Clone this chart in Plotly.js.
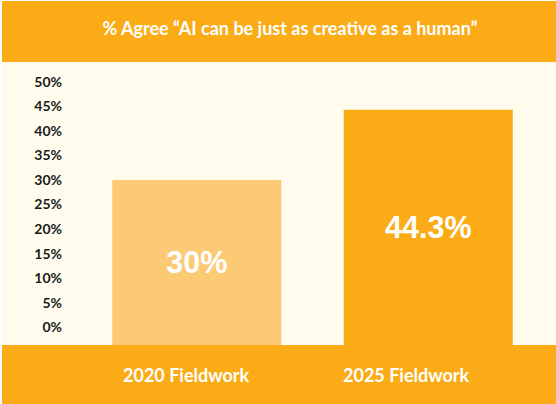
<!DOCTYPE html>
<html>
<head>
<meta charset="utf-8">
<script src="https://cdn.plot.ly/plotly-3.0.1.min.js"></script>
<style>html,body{margin:0;padding:0;background:#fff;}#chart{width:556px;height:404px;}</style>
</head>
<body>
<div id="chart"></div>
<script>
const categories = ['2020 Fieldwork', '2025 Fieldwork'];
const agreePct = [30, 44.3];
const barLabels = ['30%', '44.3%'];
const barColors = ['#FCCA74', '#FAAB15'];
const yTickVals = [0, 5, 10, 15, 20, 25, 30, 35, 40, 45, 50];
const yTickText = ['0%', '5%', '10%', '15%', '20%', '25%', '30%', '35%', '40%', '45%', '50%'];
const titleText = '% Agree “AI can be just as creative as a human”';

const ORANGE = '#FAAB15';
const CREAM = '#FFFCEE';
const W = 556, H = 404;
const M = {l: 81, r: 12, t: 62, b: 59};
const PW = W - M.l - M.r, PH = H - M.t - M.b;
const Y_MIN = -3.6, Y_MAX = 54.0;
const px2x = p => (p - M.l) / PW;
const py2y = p => (H - M.b - p) / PH;

const trace = {
  type: 'bar',
  x: categories,
  y: agreePct.map(v => v - Y_MIN),
  base: Y_MIN,
  text: barLabels,
  textposition: 'inside',
  insidetextanchor: 'middle',
  constraintext: 'none',
  textangle: 0,
  textfont: {family: 'Liberation Sans, Arial, sans-serif', size: 30.5, color: '#ffffff', weight: 'bold'},
  marker: {color: barColors, line: {width: 0}},
  hoverinfo: 'skip'
};

const xShifts = [-10, -22];
const layout = {
  width: W, height: H,
  margin: M,
  paper_bgcolor: '#ffffff',
  plot_bgcolor: CREAM,
  showlegend: false,
  bargap: 0.27,
  title: {
    text: titleText,
    font: {family: 'Lato, sans-serif', size: 18, color: '#ffffff', weight: 'bold'},
    x: px2x(290), xref: 'paper', xanchor: 'center',
    y: 1 - 29 / H, yref: 'container', yanchor: 'middle'
  },
  xaxis: {
    range: [-0.5, 1.5], showticklabels: false, showgrid: false, zeroline: false,
    showline: false, ticks: '', fixedrange: true
  },
  yaxis: {
    range: [Y_MIN, Y_MAX], tickvals: yTickVals, ticktext: yTickText,
    showgrid: false, zeroline: false, showline: false, ticks: '',
    ticklabelstandoff: 18,
    tickfont: {family: 'Lato, sans-serif', size: 14, color: '#1a1a1a', weight: 'bold'},
    fixedrange: true
  },
  shapes: [
    {type: 'rect', xref: 'paper', yref: 'paper', x0: px2x(2), x1: px2x(W), y0: py2y(62), y1: py2y(H - M.b), fillcolor: CREAM, line: {width: 0}, layer: 'below'},
    {type: 'rect', xref: 'paper', yref: 'paper', x0: px2x(2), x1: px2x(W), y0: py2y(62), y1: py2y(1), fillcolor: ORANGE, line: {width: 0}, layer: 'below'},
    {type: 'rect', xref: 'paper', yref: 'paper', x0: px2x(2), x1: px2x(W), y0: py2y(H), y1: py2y(H - M.b), fillcolor: ORANGE, line: {width: 0}, layer: 'below'}
  ],
  annotations: categories.map((c, i) => ({
    text: c, x: c, xref: 'x', yref: 'paper', y: py2y(375), yanchor: 'middle', xanchor: 'center',
    xshift: xShifts[i], showarrow: false,
    font: {family: 'Lato, sans-serif', size: 18, color: '#ffffff', weight: 'bold'}
  }))
};

Plotly.newPlot('chart', [trace], layout, {displayModeBar: false, staticPlot: true});
</script>
</body>
</html>
